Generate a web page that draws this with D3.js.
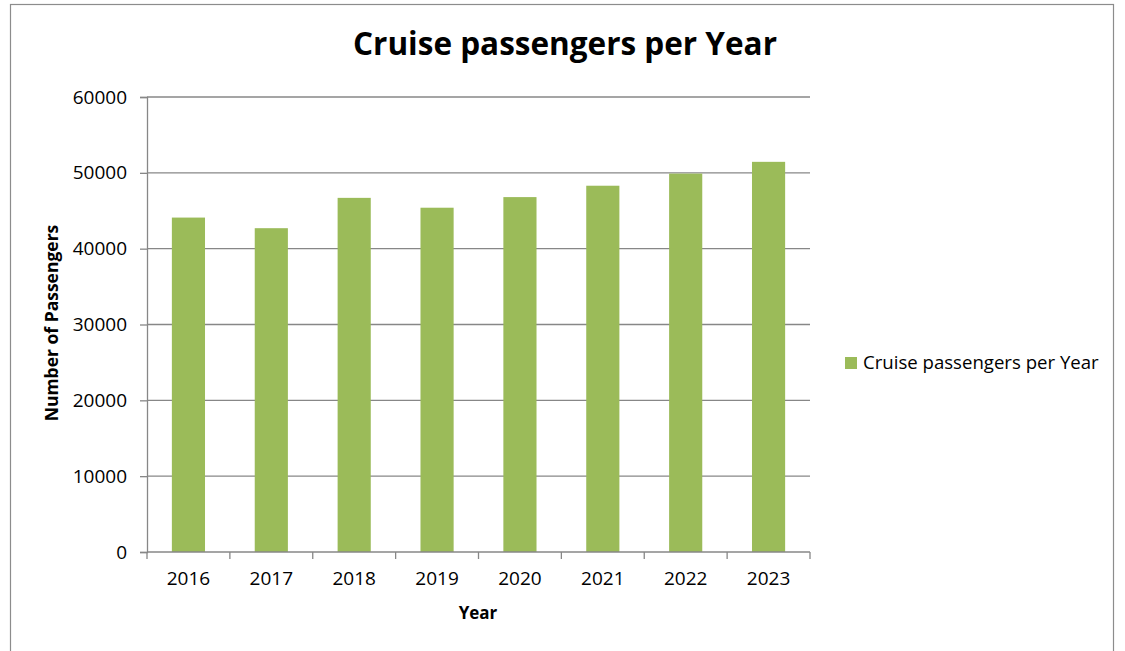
<!DOCTYPE html>
<html>
<head>
<meta charset="utf-8">
<script src="https://cdn.jsdelivr.net/npm/d3@7"></script>
<style>
  body { margin: 0; background: #fff; }
  svg { display: block; font-family: 'Open Sans', sans-serif; }
</style>
</head>
<body>
<div id="chart"></div>
<script>
// --- Data ---
const YEARS = ['2016', '2017', '2018', '2019', '2020', '2021', '2022', '2023'];
const PASSENGERS = [44100, 42700, 46700, 45400, 46800, 48300, 49900, 51450];
const Y_TICKS = [0, 10000, 20000, 30000, 40000, 50000, 60000];
const SERIES_NAME = 'Cruise passengers per Year';

const W = 1125, H = 651;
const margin = { top: 97, left: 147, right: 315, bottom: 99 };
const width = W - margin.left - margin.right;
const height = H - margin.top - margin.bottom;

const svg = d3.select('#chart').append('svg')
    .attr('width', W)
    .attr('height', H);

// outer chart frame
svg.append('rect')
    .attr('x', 10.5).attr('y', 4.5)
    .attr('width', 1103).attr('height', 660)
    .attr('fill', 'none')
    .attr('stroke', '#8c8c8c')
    .attr('stroke-width', 1.2);

const g = svg.append('g')
    .attr('transform', `translate(${margin.left},${margin.top})`);

// --- Scales ---
const x = d3.scaleBand()
    .domain(YEARS)
    .range([0, width])
    .paddingInner(0.6)
    .paddingOuter(0.3);

const y = d3.scaleLinear()
    .domain([0, 60000])
    .range([height, 0]);

// --- Gridlines ---
g.append('g')
    .selectAll('line')
    .data(Y_TICKS.filter(d => d > 0))
    .enter().append('line')
    .attr('x1', 0).attr('x2', width)
    .attr('y1', d => y(d)).attr('y2', d => y(d))
    .attr('stroke', '#878787')
    .attr('stroke-width', 1.3);

// --- Bars ---
g.selectAll('.bar')
    .data(YEARS.map((yr, i) => ({ yr, v: PASSENGERS[i] })))
    .enter().append('rect')
    .attr('class', 'bar')
    .attr('x', d => x(d.yr))
    .attr('y', d => y(d.v))
    .attr('width', x.bandwidth())
    .attr('height', d => height - y(d.v))
    .attr('fill', '#9bbb59');

// --- Axes ---
const yAxis = g.append('g')
    .call(d3.axisLeft(y).tickValues(Y_TICKS).tickFormat(d3.format('d')).tickSize(7).tickPadding(13));
yAxis.select('.domain').attr('stroke', '#878787').attr('stroke-width', 1.3);
yAxis.selectAll('.tick line').attr('stroke', '#878787').attr('stroke-width', 1.3);
yAxis.selectAll('text')
    .attr('font-size', '19px')
    .attr('fill', '#000')
    .style('font-family', "'Open Sans', sans-serif");

const xAxis = g.append('g')
    .attr('transform', `translate(0,${height})`)
    .call(d3.axisBottom(x).tickSize(0).tickPadding(20));
xAxis.select('.domain').remove();
xAxis.selectAll('text')
    .attr('font-size', '19px')
    .attr('fill', '#000')
    .style('font-family', "'Open Sans', sans-serif");

// category boundaries for x tick marks
const step = x.step();
const bounds = d3.range(YEARS.length + 1).map(i => i * step);
g.append('line')
    .attr('x1', 0).attr('x2', width)
    .attr('y1', height).attr('y2', height)
    .attr('stroke', '#878787').attr('stroke-width', 1.3);
g.selectAll('.xtick')
    .data(bounds)
    .enter().append('line')
    .attr('class', 'xtick')
    .attr('x1', d => d).attr('x2', d => d)
    .attr('y1', height).attr('y2', height + 7)
    .attr('stroke', '#878787').attr('stroke-width', 1.3);

// --- Title ---
svg.append('text')
    .attr('x', 565)
    .attr('y', 55)
    .attr('text-anchor', 'middle')
    .attr('font-size', '31.5px')
    .attr('font-weight', 'bold')
    .text(SERIES_NAME);

// --- Axis labels ---
svg.append('text')
    .attr('x', 478)
    .attr('y', 619)
    .attr('text-anchor', 'middle')
    .attr('font-size', '17px')
    .attr('font-weight', 'bold')
    .text('Year');

svg.append('text')
    .attr('transform', 'translate(58,323) rotate(-90)')
    .attr('text-anchor', 'middle')
    .attr('font-size', '17.5px')
    .attr('font-weight', 'bold')
    .text('Number of Passengers');

// --- Legend ---
const legend = svg.append('g').attr('transform', 'translate(845,357)');
legend.append('rect')
    .attr('width', 12).attr('height', 12)
    .attr('fill', '#9bbb59');
legend.append('text')
    .attr('x', 18).attr('y', 12)
    .attr('font-size', '18.6px')
    .text(SERIES_NAME);
</script>
</body>
</html>
